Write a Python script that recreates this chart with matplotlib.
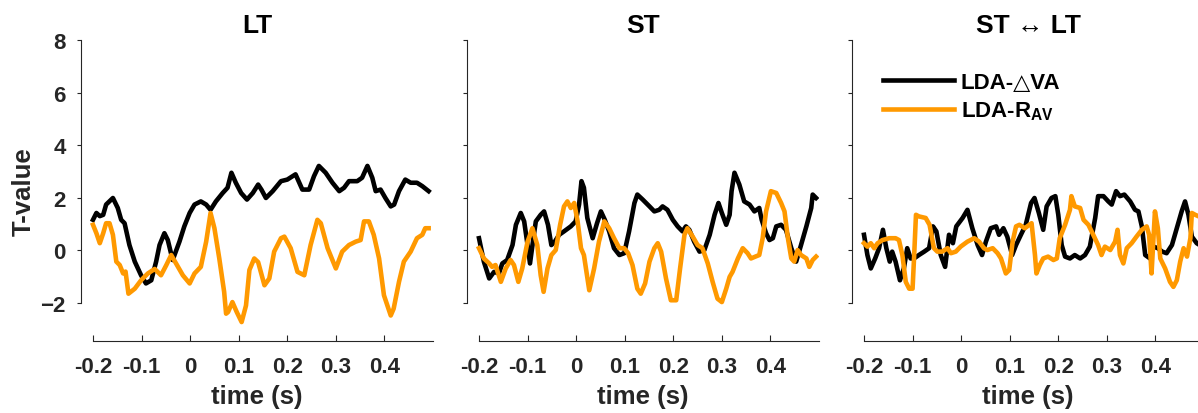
import matplotlib
matplotlib.use("Agg")
import matplotlib.pyplot as plt

plt.rcParams['font.family'] = ['Liberation Sans', 'DejaVu Sans']
plt.rcParams['font.weight'] = 'bold'
plt.rcParams['mathtext.fontset'] = 'custom'
plt.rcParams['mathtext.rm'] = 'Liberation Sans:bold'
plt.rcParams['mathtext.bf'] = 'Liberation Sans:bold'

# ---- data (time in s, T-value) ----
titles = ['LT', 'ST', 'ST \u2194 LT']
legend_labels = ['LDA-\u25b3VA', 'LDA-R$_{\\mathrm{AV}}$']
xticks = [-0.2, -0.1, 0, 0.1, 0.2, 0.3, 0.4]
xticklabels = ['-0.2', '-0.1', '0', '0.1', '0.2', '0.3', '0.4']
yticks = [-2, 0, 2, 4, 6, 8]

# LT panel
lt_t_dva = [-0.200, -0.193, -0.186, -0.179, -0.173, -0.159, -0.149, -0.142, -0.135, -0.125,
            -0.114, -0.101, -0.091, -0.080, -0.070, -0.063, -0.053, -0.046, -0.036, -0.022,
            -0.012, -0.001, 0.009, 0.022, 0.033, 0.042, 0.053, 0.067, 0.077, 0.085,
            0.094, 0.105, 0.117, 0.129, 0.140, 0.147, 0.156, 0.170, 0.187, 0.200,
            0.217, 0.231, 0.245, 0.255, 0.265, 0.279, 0.293, 0.307, 0.317, 0.327,
            0.344, 0.354, 0.365, 0.375, 0.382, 0.392, 0.402, 0.413, 0.420, 0.430,
            0.443, 0.454, 0.467, 0.478, 0.491]
lt_dva = [1.16, 1.42, 1.30, 1.35, 1.74, 1.99, 1.61, 1.16, 1.03, 0.20,
          -0.43, -0.95, -1.26, -1.14, -0.43, 0.20, 0.65, 0.39, -0.37, 0.33,
          0.91, 1.42, 1.74, 1.86, 1.74, 1.54, 1.86, 2.18, 2.38, 2.95,
          2.57, 2.18, 1.93, 2.18, 2.50, 2.30, 1.99, 2.25, 2.63, 2.69,
          2.89, 2.31, 2.31, 2.82, 3.21, 2.95, 2.57, 2.25, 2.38, 2.63,
          2.63, 2.76, 3.21, 2.76, 2.25, 2.31, 1.99, 1.67, 1.74, 2.25,
          2.69, 2.57, 2.57, 2.44, 2.25]
lt_t_rav = [-0.200, -0.193, -0.186, -0.179, -0.173, -0.166, -0.159, -0.152, -0.145, -0.138,
            -0.133, -0.127, -0.114, -0.101, -0.087, -0.073, -0.060, -0.049, -0.039, -0.029,
            -0.015, -0.001, 0.009, 0.022, 0.033, 0.042, 0.050, 0.060, 0.070, 0.074,
            0.078, 0.087, 0.096, 0.106, 0.115, 0.122, 0.132, 0.140, 0.153, 0.163,
            0.173, 0.187, 0.194, 0.207, 0.221, 0.235, 0.248, 0.262, 0.269, 0.283,
            0.300, 0.313, 0.327, 0.341, 0.351, 0.358, 0.368, 0.378, 0.389, 0.399,
            0.413, 0.419, 0.430, 0.440, 0.454, 0.467, 0.478, 0.484, 0.491]
lt_rav = [0.97, 0.65, 0.27, 0.65, 1.03, 1.03, 0.59, -0.43, -0.56, -0.88,
          -0.81, -1.65, -1.46, -1.14, -0.88, -0.71, -0.95, -0.56, -0.18, -0.50,
          -0.95, -1.26, -0.88, -0.63, 0.33, 1.42, 0.84, -0.31, -1.58, -2.41,
          -2.35, -1.97, -2.35, -2.73, -2.10, -0.75, -0.31, -0.45, -1.33, -1.07,
          -0.05, 0.46, 0.52, 0.08, -0.82, -0.95, 0.20, 1.16, 1.03, 0.08,
          -0.69, -0.05, 0.20, 0.33, 0.39, 1.10, 1.10, 0.59, -0.31, -1.71,
          -2.48, -2.22, -1.20, -0.43, -0.05, 0.46, 0.59, 0.84, 0.84]

# ST panel
st_t_dva = [-0.200, -0.190, -0.179, -0.169, -0.159, -0.152, -0.142, -0.131, -0.124, -0.114,
            -0.107, -0.100, -0.095, -0.088, -0.083, -0.073, -0.066, -0.058, -0.051, -0.044,
            -0.035, -0.025, -0.011, -0.001, 0.006, 0.011, 0.016, 0.023, 0.034, 0.043,
            0.051, 0.059, 0.068, 0.078, 0.089, 0.099, 0.109, 0.120, 0.126, 0.137,
            0.151, 0.161, 0.171, 0.178, 0.188, 0.199, 0.209, 0.219, 0.226, 0.233,
            0.243, 0.254, 0.264, 0.275, 0.285, 0.293, 0.300, 0.309, 0.316, 0.320,
            0.326, 0.336, 0.346, 0.357, 0.367, 0.377, 0.382, 0.391, 0.398, 0.405,
            0.412, 0.422, 0.432, 0.443, 0.453, 0.463, 0.474, 0.484, 0.487, 0.494]
st_dva = [0.46, -0.43, -1.07, -0.82, -0.88, -0.50, -0.37, 0.20, 0.97, 1.42,
          1.10, 0.20, -0.50, 0.46, 1.10, 1.35, 1.48, 0.97, 0.20, 0.33,
          0.59, 0.72, 0.91, 1.10, 1.74, 2.63, 2.38, 1.23, 0.46, 1.03,
          1.48, 1.16, 0.72, 0.08, -0.18, -0.11, 0.72, 1.80, 2.12, 1.93,
          1.67, 1.48, 1.54, 1.67, 1.54, 1.16, 0.91, 0.72, 0.91, 0.78,
          0.33, -0.05, 0.01, 0.59, 1.35, 1.80, 1.42, 0.97, 1.35, 2.25,
          2.95, 2.50, 1.86, 1.74, 1.48, 1.61, 1.16, 0.65, 0.39, 0.46,
          0.91, 0.97, 0.78, 0.08, -0.43, 0.20, 0.91, 1.61, 2.12, 1.99]
st_t_rav = [-0.200, -0.190, -0.179, -0.173, -0.166, -0.155, -0.145, -0.135, -0.128, -0.119,
            -0.111, -0.100, -0.090, -0.080, -0.073, -0.067, -0.059, -0.051, -0.042, -0.033,
            -0.025, -0.018, -0.011, -0.004, 0.003, 0.010, 0.016, 0.027, 0.037, 0.047,
            0.058, 0.068, 0.078, 0.089, 0.099, 0.107, 0.116, 0.126, 0.133, 0.142,
            0.151, 0.161, 0.168, 0.175, 0.185, 0.195, 0.206, 0.214, 0.223, 0.229,
            0.240, 0.250, 0.260, 0.271, 0.281, 0.291, 0.300, 0.309, 0.316, 0.322,
            0.333, 0.343, 0.353, 0.360, 0.369, 0.377, 0.384, 0.391, 0.401, 0.412,
            0.422, 0.429, 0.436, 0.443, 0.449, 0.456, 0.463, 0.474, 0.480, 0.487,
            0.494]
st_rav = [0.08, -0.31, -0.50, -0.63, -0.56, -1.20, -0.69, -0.37, -0.56, -1.20,
          -0.69, 0.33, 0.84, 0.20, -0.95, -1.58, -0.69, -0.18, 0.01, 0.97,
          1.67, 1.86, 1.61, 1.80, 1.10, 0.08, -0.18, -1.52, -0.69, 0.33,
          1.10, 0.84, 0.46, 0.08, 0.08, -0.11, -0.56, -1.46, -1.65, -1.26,
          -0.43, 0.08, 0.27, -0.05, -1.07, -1.90, -1.90, -0.69, 0.59, 0.84,
          0.52, 0.20, 0.08, -0.50, -1.20, -1.84, -1.97, -1.46, -1.01, -0.82,
          -0.31, 0.08, -0.11, -0.31, -0.24, -0.18, 0.46, 1.48, 2.25, 2.18,
          1.80, 1.48, 0.46, -0.31, -0.43, 0.01, -0.18, -0.31, -0.63, -0.37,
          -0.24]

# ST <-> LT panel
sl_t_dva = [-0.200, -0.193, -0.186, -0.177, -0.169, -0.161, -0.154, -0.147, -0.142, -0.135,
            -0.126, -0.118, -0.111, -0.104, -0.097, -0.087, -0.076, -0.066, -0.058, -0.051,
            -0.042, -0.033, -0.025, -0.017, -0.010, 0.003, 0.013, 0.023, 0.034, 0.043,
            0.051, 0.061, 0.072, 0.078, 0.087, 0.095, 0.105, 0.113, 0.123, 0.133,
            0.144, 0.151, 0.160, 0.169, 0.176, 0.186, 0.194, 0.200, 0.207, 0.214,
            0.224, 0.234, 0.245, 0.255, 0.265, 0.276, 0.282, 0.293, 0.303, 0.310,
            0.319, 0.327, 0.336, 0.348, 0.358, 0.365, 0.372, 0.379, 0.389, 0.396,
            0.405, 0.414, 0.423, 0.434, 0.444, 0.454, 0.461, 0.468, 0.475, 0.485,
            0.500]
sl_dva = [0.59, -0.18, -0.69, -0.31, 0.08, 0.78, 0.08, -0.43, -0.05, -0.43,
          -1.14, -0.69, 0.08, -0.31, -0.31, -0.18, -0.05, 0.08, 0.91, 0.72,
          -0.18, -0.63, 0.59, 0.27, 0.91, 1.23, 1.54, 0.84, 0.20, -0.18,
          0.33, 0.84, 0.91, 0.59, 0.84, 0.52, -0.18, 0.20, 0.59, 0.97,
          1.80, 1.99, 1.42, 0.78, 1.67, 1.99, 2.06, 1.35, 0.20, -0.24,
          -0.31, -0.18, -0.31, -0.18, 0.14, 1.23, 2.06, 2.06, 1.86, 1.74,
          2.25, 2.06, 2.12, 1.86, 1.54, 1.48, 0.91, -0.18, -0.31, 0.14,
          0.08, -0.05, -0.11, 0.20, 0.84, 1.48, 1.86, 1.35, 0.52, 0.27,
          0.10]
sl_t_rav = [-0.200, -0.193, -0.186, -0.179, -0.172, -0.162, -0.148, -0.135, -0.128, -0.121,
            -0.114, -0.107, -0.100, -0.097, -0.093, -0.087, -0.073, -0.065, -0.056, -0.049,
            -0.039, -0.028, -0.021, -0.011, -0.001, 0.013, 0.027, 0.037, 0.047, 0.054,
            0.065, 0.075, 0.082, 0.092, 0.099, 0.106, 0.113, 0.120, 0.131, 0.145,
            0.152, 0.155, 0.162, 0.169, 0.179, 0.190, 0.197, 0.203, 0.214, 0.224,
            0.227, 0.234, 0.245, 0.252, 0.262, 0.272, 0.282, 0.289, 0.296, 0.307,
            0.317, 0.322, 0.327, 0.334, 0.341, 0.351, 0.361, 0.372, 0.382, 0.387,
            0.392, 0.399, 0.405, 0.410, 0.420, 0.430, 0.437, 0.444, 0.451, 0.458,
            0.465, 0.472, 0.475, 0.482, 0.500]
sl_rav = [0.27, 0.14, 0.27, 0.08, 0.27, 0.39, 0.46, 0.46, 0.39, -0.18,
          -1.20, -1.46, -1.46, -0.31, 1.35, 1.29, 1.23, 0.97, 0.08, -0.05,
          -0.05, 0.08, -0.11, -0.05, 0.14, 0.33, 0.46, 0.33, 0.08, 0.01,
          0.08, -0.11, -0.31, -0.88, -0.75, 0.33, 0.91, 0.97, 0.84, 1.03,
          -0.18, -0.88, -0.56, -0.31, -0.24, -0.37, -0.31, 0.46, 0.97, 1.54,
          2.06, 1.67, 1.61, 1.16, 0.97, 0.59, 0.20, -0.18, 0.14, 0.01,
          0.33, 0.78, -0.18, -0.50, 0.08, 0.27, 0.52, 0.78, 0.91, 0.59,
          -0.88, 1.48, 0.84, -0.31, -0.69, -1.20, -1.39, -1.14, -0.43, 0.08,
          -0.24, 0.46, 1.42, 1.35, 1.20]

panels = [(lt_t_dva, lt_dva, lt_t_rav, lt_rav),
          (st_t_dva, st_dva, st_t_rav, st_rav),
          (sl_t_dva, sl_dva, sl_t_rav, sl_rav)]

black = '#000000'
orange = '#FF9900'
grey = '#262626'

fig = plt.figure(figsize=(11.98, 4.14), dpi=100)
lefts = [81, 467, 852]
width = 352 / 1198
bottom = 1 - 342 / 414
height = (342 - 41) / 414

for i, (t1, v1, t2, v2) in enumerate(panels):
    ax = fig.add_axes([lefts[i] / 1198, bottom, width, height])
    ax.plot(t1, v1, color=black, lw=3.3, solid_joinstyle='round', label=legend_labels[0])
    ax.plot(t2, v2, color=orange, lw=3.3, solid_joinstyle='round', label=legend_labels[1])
    ax.set_xlim(-0.2247, 0.5)
    ax.set_ylim(-3.45, 8)
    ax.spines['top'].set_visible(False)
    ax.spines['right'].set_visible(False)
    ax.spines['left'].set_bounds(-2, 8)
    ax.spines['bottom'].set_bounds(-0.2, 0.5)
    for s in ['left', 'bottom']:
        ax.spines[s].set_color(grey)
        ax.spines[s].set_linewidth(0.8)
    ax.set_xticks(xticks)
    ax.set_xticklabels(xticklabels)
    ax.set_yticks(yticks)
    ax.tick_params(axis='x', direction='in', length=4, width=0.8, color=grey,
                   labelsize=16, labelcolor=grey, pad=11)
    ax.tick_params(axis='y', direction='out', length=3, width=0.8, color=grey,
                   labelsize=16, labelcolor=grey, pad=8)
    if i > 0:
        ax.set_yticklabels([])
    else:
        ax.set_ylabel('T-value', fontsize=18.5, color=grey, fontweight='bold', labelpad=3)
    ax.set_xlabel('time (s)', fontsize=18.5, color=grey, fontweight='bold', labelpad=5)
    ax.set_title(titles[i], fontsize=19, fontweight='bold', pad=6)
    ax.patch.set_alpha(0)
    if i == 2:
        ax.legend(loc='upper left', bbox_to_anchor=(883 / 1198, 1 - 73 / 414),
                  bbox_transform=fig.transFigure, frameon=False, borderpad=0,
                  borderaxespad=0, fontsize=16, handlelength=3.2, handletextpad=0.3,
                  labelspacing=0.3)

fig.savefig('out.png', dpi=100)
